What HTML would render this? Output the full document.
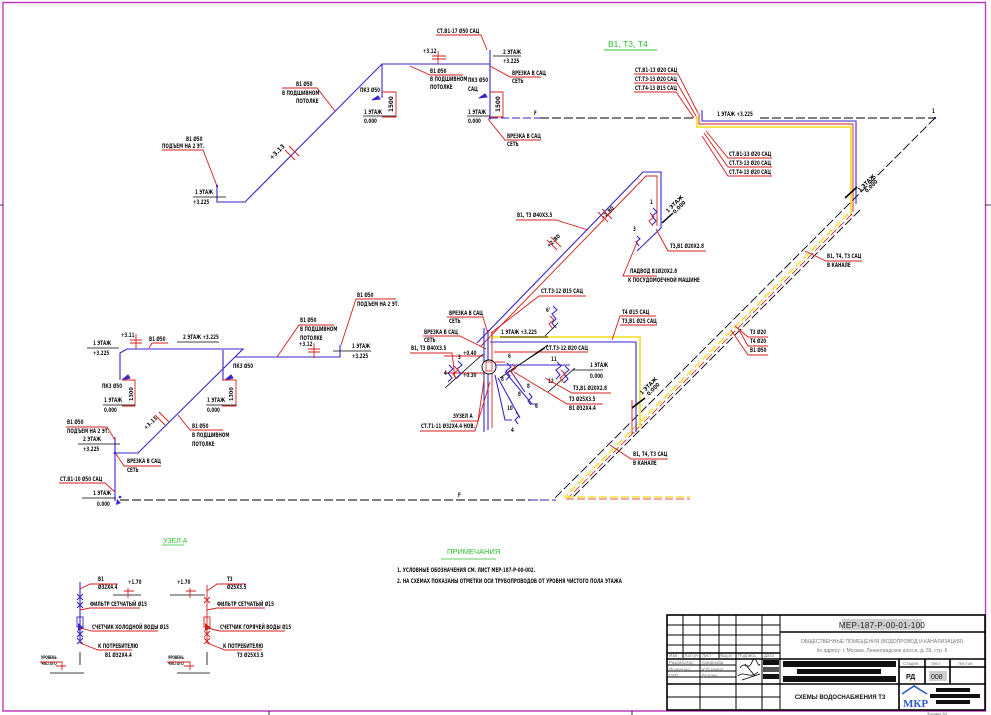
<!DOCTYPE html>
<html><head><meta charset="utf-8"><style>
html,body{margin:0;padding:0;background:#fff;}
svg{display:block;}
.t,.tr{font-family:"Liberation Sans Narrow","DejaVu Sans Condensed","Liberation Sans",sans-serif;font-size:6.3px;font-weight:bold;fill:#111;}
.t{transform-box:fill-box;transform-origin:0% 50%;transform:scaleX(0.72);}
.s{font-family:"Liberation Sans",sans-serif;font-size:4.5px;fill:#777;}
.b{stroke:#3a26c8;fill:none;stroke-width:1.1;}
.r{stroke:#d41e1e;fill:none;stroke-width:0.9;}
.k{stroke:#000;fill:none;stroke-width:0.8;}
.kd{stroke:#000;fill:none;stroke-width:0.9;stroke-dasharray:9 3;}
.bd{stroke:#3a26c8;fill:none;stroke-width:1;stroke-dasharray:8 3;}
.y{stroke:#f4e23c;fill:none;stroke-width:1.8;}
.yd{stroke:#f4e23c;fill:none;stroke-width:1.6;stroke-dasharray:8 3;}
.rd{stroke:#d41e1e;fill:none;stroke-width:0.8;stroke-dasharray:8 3;}
.g{font-family:"Liberation Sans Narrow","Liberation Sans",sans-serif;font-size:8.5px;fill:#2cc02c;}
</style></head><body>
<svg width="991" height="715" viewBox="0 0 991 715" xmlns="http://www.w3.org/2000/svg">
<rect width="991" height="715" fill="#fff"/>
<!-- frame -->
<path d="M3,2.5 H985.5 V711 H3 Z" fill="none" stroke="#c03cc0" stroke-width="1.4"/>
<path d="M0,205 H3 M985,205 H991 M269,711 V715 M632,711 V715" class="k"/>

<!-- ============ TOP LEFT SYSTEM ============ -->
<path class="b" d="M217,187 V202 H245 L382,64 H490 M382,64 V98 M490,50 V118"/>
<path class="bd" d="M490,118 H540"/>
<path class="kd" d="M540,118 H697 M760,118 H935"/>
<circle cx="217" cy="186" r="1.2" fill="#3a26c8"/>
<circle cx="490" cy="118" r="1.3" fill="#3a26c8"/>
<path class="r" d="M162,150 H203 L217,186"/>
<text class="t" x="186" y="141">В1 Ø50</text>
<text class="t" x="162" y="148">ПОДЪЕМ НА 2 ЭТ.</text>
<text class="t" x="195" y="194">1 ЭТАЖ</text>
<path class="k" d="M193,197 H226"/>
<text class="t" x="193" y="204">+3.225</text>
<text class="t" x="296" y="86">В1 Ø50</text>
<text class="t" x="282" y="95">В ПОДШИВНОМ</text>
<text class="t" x="296" y="103">ПОТОЛКЕ</text>
<path class="r" d="M282,88 H317 L335,111"/>
<text class="tr" transform="translate(272,160) rotate(-45)">+3.13</text>
<path class="r" d="M285,150 L295,160 M289,146 L299,156"/>
<text class="t" x="423" y="53">+3.12</text>
<path class="r" d="M438,51 V64 M432,56 H446 M432,59 H446"/>
<path class="r" d="M410,66 L430,75 H463"/>
<text class="t" x="430" y="73">В1 Ø50</text>
<text class="t" x="430" y="81">В ПОДШИВНОМ</text>
<text class="t" x="430" y="89">ПОТОЛКЕ</text>
<text class="t" x="360" y="92">ПК3 Ø50</text>
<path d="M372,100 L378,96 L380,99 Z" fill="#3a26c8" stroke="#3a26c8"/>
<path class="r" d="M382,92 H396 V117 H382"/>
<text class="tr" transform="translate(393,112) rotate(-90)">1500</text>
<text class="t" x="364" y="114">1 ЭТАЖ</text>
<path class="k" d="M363,116 H396"/>
<text class="t" x="364" y="123">0.000</text>
<text class="t" x="468" y="82">ПК3 Ø50</text>
<text class="t" x="468" y="91">САЦ</text>
<path d="M479,98 L485,94 L487,97 Z" fill="#3a26c8" stroke="#3a26c8"/>
<path class="r" d="M490,92 H503 V117 H490"/>
<text class="tr" transform="translate(500,112) rotate(-90)">1500</text>
<text class="t" x="468" y="114">1 ЭТАЖ</text>
<path class="k" d="M467,116 H490"/>
<text class="t" x="468" y="123">0.000</text>
<text class="t" x="437" y="33">СТ.В1-17 Ø50 САЦ</text>
<path class="r" d="M436,35 H481 L487,50"/>
<text class="t" x="503" y="54">2 ЭТАЖ</text>
<path class="k" d="M493,56 H521"/>
<text class="t" x="503" y="63">+3.225</text>
<text class="t" x="512" y="75">ВРЕЗКА В САЦ</text>
<text class="t" x="512" y="83">СЕТЬ</text>
<path class="r" d="M490,66 L510,77 H541"/>
<text class="t" x="507" y="138">ВРЕЗКА В САЦ</text>
<text class="t" x="507" y="146">СЕТЬ</text>
<path class="r" d="M488,119 L505,140 H541"/>
<text class="t" x="534" y="115">F</text>

<!-- ============ TOP RIGHT ============ -->
<text class="g" x="608" y="47">В1, Т3, Т4</text>
<path d="M604,50 H657" stroke="#2cc02c" stroke-width="0.9"/>
<text class="t" x="635" y="72">СТ.В1-13 Ø20 САЦ</text>
<text class="t" x="635" y="81">СТ.Т3-13 Ø20 САЦ</text>
<text class="t" x="635" y="90">СТ.Т4-13 Ø15 САЦ</text>
<path class="r" d="M634,74 H678 L698,113 M634,83 H677 L696,116 M634,92 H676 L694,118"/>
<path class="y" d="M697,116 V127 H851 V216"/>
<path class="r" d="M699,113 V124 H853 V212"/>
<path class="b" d="M702,110 V121 H856 V204"/>
<text class="t" x="717" y="116">1 ЭТАЖ  +3.225</text>
<text class="t" x="729" y="156">СТ.В1-13 Ø20 САЦ</text>
<text class="t" x="729" y="165">СТ.Т3-13 Ø20 САЦ</text>
<text class="t" x="729" y="174">СТ.Т4-13 Ø20 САЦ</text>
<path class="r" d="M706,131 L728,158 H772 M704,133 L728,167 H772 M702,136 L728,176 H772"/>
<text class="t" x="932" y="113">1</text>
<circle cx="935" cy="118" r="1.2" fill="#3a26c8"/>
<!-- channel -->
<path class="kd" d="M935,118 L553,500"/>
<path class="yd" d="M848,214 L564,498"/>
<path class="rd" d="M852,214 L568,498"/>
<path class="kd" d="M860,210 L573,497"/>
<text class="tr" transform="translate(860,192) rotate(-45)" style="font-size:5.5px">1 ЭТАЖ</text>
<text class="tr" transform="translate(867,193) rotate(-45)" style="font-size:5.5px">0.000</text>
<path d="M845,198 L857,187" stroke="#000" stroke-width="1.6"/>
<text class="t" x="827" y="258">В1, Т4, Т3 САЦ</text>
<text class="t" x="827" y="267">В КАНАЛЕ</text>
<path class="r" d="M805,251 L826,261 H862"/>

<!-- ============ MIDDLE UPPER ============ -->
<path class="b" d="M477,343 L643,172 H661 V228 L637,251"/>
<path class="r" d="M481,346 L646,176 H657 V226" stroke="#8a24b0"/>
<path class="b" d="M653,208 L657,212 L652,216 L656,221 L652,225"/>
<path class="r" d="M650,213 L654,217 L649,221 L653,226"/>
<text class="t" x="650" y="204">1</text>
<text class="t" x="633" y="231">3</text>
<path class="b" d="M637,236 L640,239 L636,242 L639,246"/>
<text class="tr" transform="translate(668,213) rotate(-45)" style="font-size:5.5px">1 ЭТАЖ</text>
<text class="tr" transform="translate(675,214) rotate(-45)" style="font-size:5.5px">0.000</text>
<path d="M662,223 L673,213" stroke="#000" stroke-width="1.5"/>
<text class="t" x="670" y="248">Т3,В1 Ø20Х2.8</text>
<path class="r" d="M656,229 L668,251 H706"/>
<text class="t" x="630" y="273">ПАДВОД В1Ø20Х2.8</text>
<text class="t" x="628" y="282">К ПОСУДОМОЕЧНОЙ МАШИНЕ</text>
<path class="r" d="M638,240 L623,276 H657"/>
<text class="t" x="517" y="217">В1, Т3 Ø40Х3.5</text>
<path class="r" d="M516,220 H556 L588,230"/>
<text class="tr" transform="translate(603,220) rotate(-45)" style="font-size:5.5px">+2.80</text>
<path class="r" d="M598,212 L608,222 M602,209 L612,219"/>
<text class="tr" transform="translate(549,248) rotate(-45)" style="font-size:5.5px">+2.80</text>
<path class="r" d="M547,240 L557,250 M551,237 L561,247"/>

<!-- ============ BOTTOM CENTER ============ -->
<path class="y" d="M490,337 H640 V428"/>
<path class="b" d="M490,342 H636 V432"/>
<path class="r" d="M632,400 V434"/>
<path class="b" d="M484,328 V432 M488,330 V430"/>
<path class="r" d="M492,332 V428"/>
<circle cx="489" cy="367" r="7" fill="#fff" stroke="#000" stroke-width="0.9"/>
<rect x="486" y="362" width="6" height="9" fill="none" stroke="#d41e1e" stroke-width="0.8"/>
<path class="r" d="M494,352 H588"/>
<path class="b" d="M495,365 H570"/>
<path class="r" d="M495,362 H505"/>
<path class="r" d="M444,356 H484 M444,373 H484"/>
<path class="k" d="M445,388 L483,354"/>
<path class="b" d="M449,365 L453,369 L448,373 L452,378 L448,382"/>
<path class="b" d="M458,361 L462,365 L457,369 L461,374 L457,378"/>
<path class="r" d="M454,366 L458,370 L453,374 L457,379"/>
<text class="t" x="458" y="359">3</text>
<text class="t" x="444" y="375">4</text>
<text class="t" x="463" y="355">+0.40</text>
<text class="t" x="463" y="377">+0.30</text>
<path class="k" d="M500,378 L548,345 M508,372 L545,348"/>
<path class="b" d="M495,375 L505,420 H512 M498,378 L520,418 M505,372 L532,404 H538 M510,370 L525,392"/>
<path class="b" d="M507,363 L511,367 L506,371 L510,376 L506,380"/>
<path class="r" d="M512,364 L516,368 L511,372 L515,377"/>
<path class="b" d="M516,412 L519,416 L515,420 L518,424"/>
<path class="b" d="M529,393 L532,397 L528,401 L531,405"/>
<text class="t" x="508" y="358">6</text>
<text class="t" x="501" y="381">8</text>
<text class="t" x="527" y="388">8</text>
<text class="t" x="518" y="396">8</text>
<text class="t" x="507" y="410">10</text>
<text class="t" x="511" y="432">4</text>
<text class="t" x="535" y="408">6</text>
<path class="k" d="M548,392 L575,368"/>
<path class="b" d="M557,362 L561,366 L556,370 L560,375 L556,379"/>
<path class="b" d="M565,366 L569,370 L564,374 L568,379 L564,383"/>
<path class="r" d="M561,370 L565,374 L560,378 L564,383"/>
<text class="t" x="551" y="361">11</text>
<text class="t" x="548" y="383">12</text>
<text class="t" x="541" y="293">СТ.Т3-12 Ø15 САЦ</text>
<path class="r" d="M491,333 L539,296 H586"/>
<text class="t" x="546" y="312">6'</text>
<path class="b" d="M553,306 L557,310 L552,314 L556,319 L552,323 L556,328"/>
<path class="r" d="M550,316 L554,320 L549,324 L553,329"/>
<path class="k" d="M545,336 L558,323"/>
<text class="t" x="449" y="315">ВРЕЗКА В САЦ</text>
<text class="t" x="449" y="323">СЕТЬ</text>
<path class="r" d="M447,317 H483 L488,334"/>
<text class="t" x="501" y="334">1 ЭТАЖ +3.225</text>
<path class="k" d="M500,337 H548"/>
<text class="t" x="424" y="334">ВРЕЗКА В САЦ</text>
<text class="t" x="424" y="342">СЕТЬ</text>
<path class="r" d="M423,336 H460 L486,349"/>
<text class="t" x="411" y="350">В1, Т3 Ø40Х3.5</text>
<path class="r" d="M410,353 H452 L455,378"/>
<text class="t" x="546" y="350">СТ.Т3-12 Ø20 САЦ</text>
<text class="t" x="590" y="367">1 ЭТАЖ</text>
<path class="k" d="M572,370 H603"/>
<text class="t" x="590" y="378">0.000</text>
<text class="t" x="573" y="390">Т3,В1 Ø20Х2.8</text>
<path class="r" d="M545,378 L572,393 H611"/>
<text class="t" x="569" y="401">Т3 Ø25Х3.5</text>
<text class="t" x="569" y="410">В1 Ø32Х4.4</text>
<path class="r" d="M514,372 L567,404 H603"/>
<text class="t" x="453" y="418">ЗУЗЕЛ А</text>
<path class="r" d="M451,421 H478 L484,380"/>
<text class="t" x="421" y="428">СТ.Т1-11 Ø32Х4.4 НОВ.</text>
<path class="r" d="M420,431 H475 L490,382"/>
<text class="t" x="622" y="314">Т4 Ø15 САЦ</text>
<text class="t" x="622" y="323">Т3,В1 Ø25 САЦ</text>
<path class="r" d="M612,340 L620,316 H656 M620,325 H657"/>
<text class="tr" transform="translate(642,395) rotate(-45)" style="font-size:5.5px">1 ЭТАЖ</text>
<text class="tr" transform="translate(649,396) rotate(-45)" style="font-size:5.5px">0.000</text>
<path d="M632,408 L645,398" stroke="#000" stroke-width="1.6"/>
<text class="t" x="633" y="456">В1, Т4, Т3 САЦ</text>
<text class="t" x="633" y="465">В КАНАЛЕ</text>
<path class="r" d="M610,445 L631,459 H668"/>
<text class="t" x="750" y="334">Т3 Ø20</text>
<text class="t" x="750" y="343">Т4 Ø20</text>
<text class="t" x="750" y="352">В1 Ø50</text>
<path class="r" d="M735,326 L748,337 H768 M738,328 L748,346 H768 M731,330 L748,355 H768"/>

<!-- bottom horizontal -->
<path class="kd" d="M120,500 H555"/>
<path class="bd" d="M530,500 H556"/>
<path class="yd" d="M566,497 H690"/>
<path class="rd" d="M566,499 H690"/>
<text class="t" x="458" y="497">F</text>

<!-- ============ LEFT MIDDLE SYSTEM ============ -->
<path class="b" d="M115,501 V437 M115,453 H138 L243,349 H127 L120,353 V380 M235,357 H340 V345 M223,350 V380"/>
<circle cx="115" cy="453" r="1.3" fill="#3a26c8"/>
<circle cx="120" cy="497" r="1.3" fill="#3a26c8"/>
<path d="M117,499 L121,503 L116,505 Z" fill="#3a26c8"/>
<path d="M122,380 L128,375 L130,378 Z M225,380 L231,375 L233,378 Z" fill="#3a26c8" stroke="#3a26c8"/>
<path class="r" d="M122,380 H135 V406 H122 M222,380 H236 V406 H222"/>
<text class="tr" transform="translate(133,401) rotate(-90)" style="font-size:5.5px">1300</text>
<text class="tr" transform="translate(233,401) rotate(-90)" style="font-size:5.5px">1300</text>
<text class="t" x="121" y="337">+3.11</text>
<path class="r" d="M136,334 V349 M130,340 H142 M130,343 H142"/>
<text class="t" x="149" y="341">В1 Ø50</text>
<path class="r" d="M149,348 L152,343 H168"/>
<text class="t" x="183" y="339">2 ЭТАЖ  +3.225</text>
<path class="k" d="M177,342 H219"/>
<text class="t" x="93" y="345">1 ЭТАЖ</text>
<path class="k" d="M87,348 H119"/>
<text class="t" x="93" y="355">+3.225</text>
<text class="t" x="102" y="388">ПК3 Ø50</text>
<text class="t" x="104" y="402">1 ЭТАЖ</text>
<path class="k" d="M103,405 H135"/>
<text class="t" x="104" y="412">0.000</text>
<text class="t" x="233" y="368">ПК3 Ø50</text>
<text class="t" x="207" y="402">1 ЭТАЖ</text>
<path class="k" d="M206,405 H236"/>
<text class="t" x="207" y="412">0.000</text>
<text class="tr" transform="translate(146,430) rotate(-45)" style="font-size:5.5px">+3.13</text>
<path class="r" d="M155,415 L165,425 M159,412 L169,422"/>
<text class="t" x="192" y="428">В1 Ø50</text>
<text class="t" x="192" y="437">В ПОДШИВНОМ</text>
<text class="t" x="192" y="446">ПОТОЛКЕ</text>
<path class="r" d="M178,415 L190,430 H223"/>
<text class="t" x="300" y="322">В1 Ø50</text>
<text class="t" x="300" y="331">В ПОДШИВНОМ</text>
<text class="t" x="300" y="340">ПОТОЛКЕ</text>
<path class="r" d="M277,357 L299,325 H334"/>
<text class="t" x="299" y="346">+3.12</text>
<path class="r" d="M314,343 V358 M308,349 H320 M308,352 H320"/>
<text class="t" x="357" y="297">В1 Ø50</text>
<text class="t" x="357" y="306">ПОДЪЕМ НА 2 ЭТ.</text>
<path class="r" d="M341,345 L356,299 H396"/>
<text class="t" x="352" y="348">1 ЭТАЖ</text>
<path class="k" d="M333,351 H371"/>
<text class="t" x="352" y="358">+3.225</text>
<text class="t" x="67" y="424">В1 Ø50</text>
<text class="t" x="67" y="433">ПОДЪЕМ НА 2 ЭТ.</text>
<path class="r" d="M66,427 H107 L115,440"/>
<text class="t" x="83" y="441">2 ЭТАЖ</text>
<path class="k" d="M78,444 H120"/>
<text class="t" x="83" y="451">+3.225</text>
<text class="t" x="127" y="463">ВРЕЗКА В САЦ</text>
<text class="t" x="127" y="472">СЕТЬ</text>
<path class="r" d="M116,454 L124,466 H161"/>
<text class="t" x="60" y="481">СТ.В1-10 Ø50 САЦ</text>
<path class="r" d="M59,483 H105 L115,492"/>
<text class="t" x="93" y="495">1 ЭТАЖ</text>
<path class="k" d="M82,498 H116"/>
<text class="t" x="97" y="506">0.000</text>

<!-- ============ УЗЕЛ А ============ -->
<text class="g" x="163" y="543" style="font-size:7px">УЗЕЛ А</text>
<path d="M162,545 H184" stroke="#2cc02c" stroke-width="0.8"/>
<path class="b" d="M80,582 V643"/>
<path class="b" d="M77,594 L83,600 M83,594 L77,600 M77,602 L83,608 M83,602 L77,608 M77,631 L83,637 M83,631 L77,637 M77,638 L83,644 M83,638 L77,644"/>
<rect x="77" y="617" width="6" height="10" fill="none" stroke="#3a26c8" stroke-width="0.9"/>
<path d="M78,623 L84,628 L78,631 Z" fill="#3a26c8"/>
<path class="k" d="M80,652 V665 M50,673 H84"/>
<path class="r" d="M80,589 L90,584 H118 M80,610 L90,608 H140 M80,628 L92,631 H158 M80,643 L98,650 H132"/>
<text class="t" x="98" y="581">В1</text>
<text class="t" x="98" y="589">Ø32Х4.4</text>
<text class="t" x="128" y="584">+1.70</text>
<path class="k" d="M113,595 H141"/>
<path class="r" d="M128,588 V598 M124,591 H134"/>
<text class="t" x="90" y="606">ФИЛЬТР СЕТЧАТЫЙ Ø15</text>
<text class="t" x="92" y="629">СЧЕТЧИК ХОЛОДНОЙ ВОДЫ Ø15</text>
<text class="t" x="98" y="648">К ПОТРЕБИТЕЛЮ</text>
<text class="t" x="105" y="657">В1 Ø32Х4.4</text>
<text class="t" x="41" y="659" style="font-size:4.5px">УРОВЕНЬ</text>
<text class="t" x="41" y="665" style="font-size:4.5px">ЧИСТОГО</text>
<path class="r" d="M40,662 H62 V670 M56,666 H66"/>
<path class="r" d="M207,585 V643"/>
<path class="r" d="M204,597 L210,603 M210,597 L204,603 M204,631 L210,637 M210,631 L204,637 M204,638 L210,644 M210,638 L204,644"/>
<rect x="204" y="617" width="6" height="10" fill="none" stroke="#d41e1e" stroke-width="0.9"/>
<path d="M205,623 L211,628 L205,631 Z" fill="#d41e1e"/>
<path class="k" d="M207,652 V665 M177,673 H210"/>
<path class="r" d="M207,591 L217,584 H246 M207,610 L217,608 H265 M207,628 L220,631 H285 M207,643 L225,650 H262"/>
<text class="t" x="227" y="581">Т3</text>
<text class="t" x="227" y="589">Ø25Х3.5</text>
<text class="t" x="177" y="584">+1.70</text>
<path class="k" d="M170,595 H205"/>
<path class="r" d="M190,588 V598 M186,591 H196"/>
<text class="t" x="217" y="606">ФИЛЬТР СЕТЧАТЫЙ Ø15</text>
<text class="t" x="220" y="629">СЧЕТЧИК ГОРЯЧЕЙ ВОДЫ Ø15</text>
<text class="t" x="223" y="648">К ПОТРЕБИТЕЛЮ</text>
<text class="t" x="237" y="657">Т3 Ø25Х3.5</text>
<text class="t" x="168" y="659" style="font-size:4.5px">УРОВЕНЬ</text>
<text class="t" x="168" y="665" style="font-size:4.5px">ЧИСТОГО</text>
<path class="r" d="M167,662 H190 V670 M184,666 H194"/>

<!-- ============ NOTES ============ -->
<text class="g" x="447" y="554" style="font-size:7.5px">ПРИМЕЧАНИЯ</text>
<path d="M441,559 H496" stroke="#2cc02c" stroke-width="0.8"/>
<text class="t" x="397" y="572">1. УСЛОВНЫЕ ОБОЗНАЧЕНИЯ СМ. ЛИСТ МЕР-187-Р-00-002.</text>
<text class="t" x="397" y="583">2. НА СХЕМАХ ПОКАЗАНЫ ОТМЕТКИ ОСИ ТРУБОПРОВОДОВ ОТ УРОВНЯ ЧИСТОГО ПОЛА ЭТАЖА</text>

<!-- ============ TITLE BLOCK ============ -->
<g stroke="#000" fill="none">
<rect x="667" y="615" width="318" height="95" stroke-width="1.6"/>
<path stroke-width="1" d="M683,615 V658 M700,615 V709 M719,615 V658 M736,615 V709 M762,615 V709 M780,615 V709"/>
<path stroke-width="1" d="M667,625 H780 M667,635 H780 M667,645 H780 M667,665 H736 M667,671 H736 M667,677 H736 M667,697 H780"/>
<path stroke-width="1.6" d="M667,653 H780 M667,659 H985 M667,684 H985 M780,632 H985 M899,659 V710 M899,667 H985 M925,659 V684 M950,659 V684"/>
</g>
<text class="s" x="669" y="657">Изм</text>
<text class="s" x="685" y="657">Кол.уч</text>
<text class="s" x="702" y="657">Лист</text>
<text class="s" x="720" y="657">№док</text>
<text class="s" x="738" y="657">Подпись</text>
<text class="s" x="764" y="657">Дата</text>
<text class="s" x="669" y="664">Разработал</text>
<text class="s" x="669" y="671">Проверил</text>
<text class="s" x="669" y="677">ГИП</text>
<text class="s" x="702" y="664">Смирнова</text>
<text class="s" x="702" y="671">Юбочкина</text>
<text class="s" x="702" y="677">Болтин</text>
<path d="M740,668 C745,660 748,672 752,662 S758,670 760,664 M738,676 C744,670 750,680 758,672 M742,680 L760,674 M745,664 L755,676" stroke="#000" stroke-width="0.8" fill="none"/>
<rect x="763" y="660" width="16" height="5" fill="#111"/>
<rect x="763" y="667" width="16" height="5" fill="#555"/>
<rect x="763" y="674" width="16" height="5" fill="#111"/>
<rect x="842" y="619" width="80" height="11" fill="#cfcfcf"/>
<text x="882" y="628" text-anchor="middle" style="font-family:'Liberation Sans',sans-serif;font-size:8px;fill:#222;letter-spacing:0.3px">МЕР-187-Р-00-01-100</text>
<text x="882" y="643" text-anchor="middle" class="s" style="font-size:5px">ОБЩЕСТВЕННЫЕ ПОМЕЩЕНИЯ (ВОДОПРОВОД И КАНАЛИЗАЦИЯ)</text>
<text x="882" y="652" text-anchor="middle" class="s" style="font-size:5px">по адресу: г. Москва, Ленинградское шоссе, д. 39, стр. 6</text>
<rect x="783" y="661" width="113" height="6" fill="#111"/>
<rect x="797" y="669" width="84" height="5" fill="#111"/>
<rect x="783" y="676" width="113" height="6" fill="#111"/>
<text class="s" x="903" y="665">Стадия</text>
<text class="s" x="931" y="665">Лист</text>
<text class="s" x="958" y="665">Листов</text>
<text x="906" y="679" style="font-family:'Liberation Sans',sans-serif;font-size:7px;font-weight:bold;fill:#111">РД</text>
<rect x="929" y="671" width="18" height="10" fill="#cfcfcf"/>
<text x="931" y="679" style="font-family:'Liberation Sans',sans-serif;font-size:7px;fill:#222">008</text>
<text x="840" y="699" text-anchor="middle" style="font-family:'Liberation Sans',sans-serif;font-size:6px;font-weight:bold;fill:#111">СХЕМЫ ВОДОСНАБЖЕНИЯ Т3</text>
<path d="M902,694 L914,686 L927,694" stroke="#2a5ad0" stroke-width="1.6" fill="none"/>
<text x="903" y="707" style="font-family:'Liberation Serif',serif;font-size:11px;font-weight:bold;fill:#2a5ad0">МКР</text>
<rect x="936" y="688" width="34" height="4" fill="#111"/>
<rect x="930" y="694" width="50" height="4" fill="#111"/>
<rect x="936" y="700" width="34" height="4" fill="#111"/>
<text class="s" x="927" y="715" style="font-size:4px">Формат А3</text>
</svg>
</body></html>
